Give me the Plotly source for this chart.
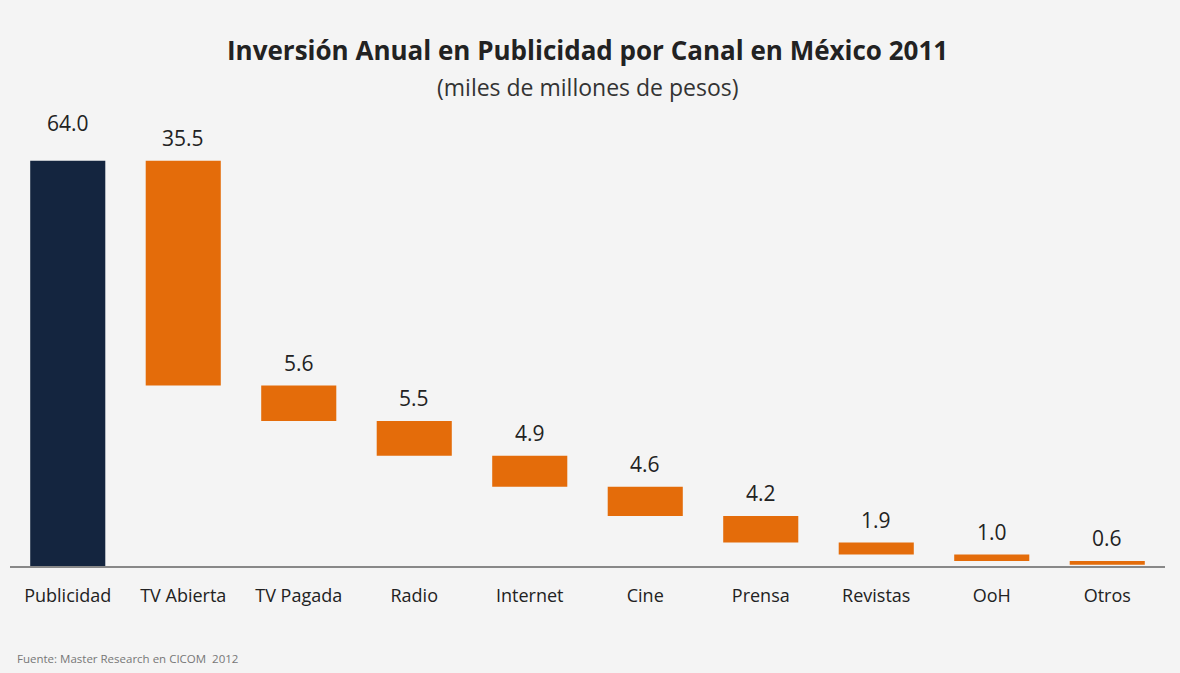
import plotly.graph_objects as go

categories = ["Publicidad", "TV Abierta", "TV Pagada", "Radio", "Internet",
              "Cine", "Prensa", "Revistas", "OoH", "Otros"]
values = [64.0, 35.5, 5.6, 5.5, 4.9, 4.6, 4.2, 1.9, 1.0, 0.6]
value_labels = ["64.0", "35.5", "5.6", "5.5", "4.9", "4.6", "4.2", "1.9", "1.0", "0.6"]

total = values[0]
bases = [0.0]
tops = [total]
running = total
for v in values[1:]:
    tops.append(running)
    running -= v
    bases.append(running)

colors = ["#14253f"] + ["#e46c0a"] * (len(values) - 1)

fig = go.Figure()
fig.add_trace(go.Bar(
    x=categories, y=values, base=bases,
    marker=dict(color=colors, line=dict(width=0)),
    hoverinfo="skip", showlegend=False,
))

label_shift = [22] + [7] * (len(values) - 1)
for c, t, lab, s in zip(categories, tops, value_labels, label_shift):
    fig.add_annotation(x=c, y=t, text=lab, showarrow=False, yanchor="bottom",
                       yshift=s, font=dict(size=21, color="#222222"))

fig.add_annotation(text="<b>Inversión Anual en Publicidad por Canal en México 2011</b>",
                   xref="paper", yref="paper", x=0.5, y=1.0, yshift=60,
                   showarrow=False, yanchor="middle",
                   font=dict(size=26, color="#222222"))
fig.add_annotation(text="(miles de millones de pesos)",
                   xref="paper", yref="paper", x=0.5, y=1.0, yshift=23,
                   showarrow=False, yanchor="middle",
                   font=dict(size=23, color="#333333"))
fig.add_annotation(text="Fuente: Master Research en CICOM  2012",
                   xref="paper", yref="paper", x=0.0, y=0.0, xshift=5, yshift=-92,
                   showarrow=False, xanchor="left", yanchor="middle",
                   font=dict(size=11.5, color="#777777"))

fig.update_layout(
    width=1180, height=673,
    margin=dict(l=10, r=15, t=110, b=107),
    paper_bgcolor="#f4f4f4", plot_bgcolor="#f4f4f4",
    bargap=0.35,
    font=dict(family="Open Sans, Noto Sans, sans-serif", color="#333333"),
    xaxis=dict(showline=True, linecolor="#888888", linewidth=1.5,
               ticks="outside", ticklen=13, tickcolor="rgba(0,0,0,0)",
               tickfont=dict(size=18, color="#222222"), showgrid=False),
    yaxis=dict(range=[0, 72], visible=False, showgrid=False, zeroline=False),
)

fig.write_html("out.html")
